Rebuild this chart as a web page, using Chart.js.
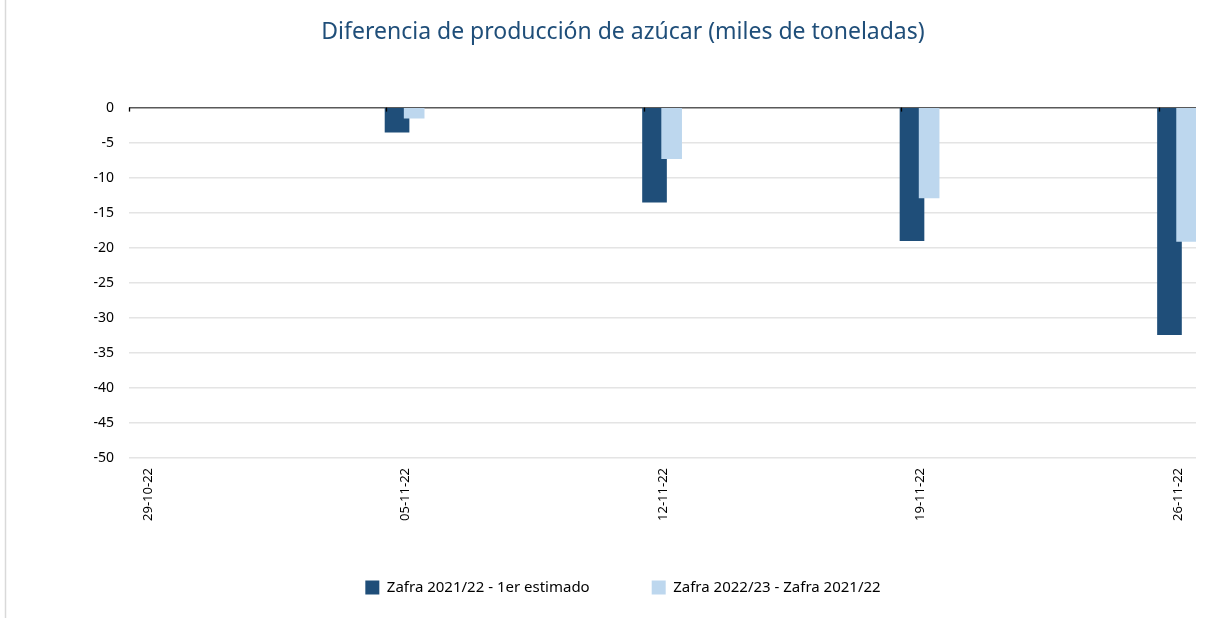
<!DOCTYPE html>
<html>
<head>
<meta charset="utf-8">
<script src="https://cdn.jsdelivr.net/npm/chart.js@4"></script>
<style>
  html, body { margin: 0; padding: 0; background: #fff; }
  #wrap { position: relative; width: 1227px; height: 618px; }
</style>
</head>
<body>
<div id="wrap"><canvas id="c" width="1227" height="618"></canvas></div>
<script>
const categories = ['29-10-22', '05-11-22', '12-11-22', '19-11-22', '26-11-22'];
const zafra2122Estimado = [null, -3.5, -13.5, -19.0, -32.4];
const zafra2223Menos2122 = [null, -1.5, -7.3, -12.9, -19.1];
const seriesNames = ['Zafra 2021/22 - 1er estimado', 'Zafra 2022/23 - Zafra 2021/22'];
const yMin = -50, yMax = 0, yStep = 5;
const titleText = 'Diferencia de producción de azúcar (miles de toneladas)';

const FONT = '"Noto Sans", "Open Sans", sans-serif';
const DARK = '#1F4E79';
const LIGHT = '#BDD7EE';

// x range in category-index units (last category sits short of the right edge)
const xMax = categories.length - 1 + 0.144;
const darkShift = 0.041;   // dark bar center slightly right of the category tick
const lightShift = 0.1075; // light bar center further right

const toPoints = arr => arr.map((v, i) => ({ x: i, y: v }));

const decor = {
  id: 'decor',
  beforeDraw(chart) {
    const ctx = chart.ctx;
    ctx.save();
    ctx.fillStyle = '#fff';
    ctx.fillRect(0, 0, chart.width, chart.height);
    ctx.strokeStyle = '#d9d9d9';
    ctx.lineWidth = 1.5;
    ctx.beginPath();
    ctx.moveTo(5.5, 0);
    ctx.lineTo(5.5, chart.height);
    ctx.stroke();
    ctx.restore();
  },
  afterDatasetsDraw(chart) {
    const ctx = chart.ctx;
    const xs = chart.scales.x, ys = chart.scales.y;
    const y0 = ys.getPixelForValue(0);
    ctx.save();
    ctx.strokeStyle = '#000';
    ctx.lineWidth = 1.3;
    categories.forEach((c, i) => {
      const px = Math.round(xs.getPixelForValue(i)) + 0.5;
      ctx.beginPath();
      ctx.moveTo(px, y0);
      ctx.lineTo(px, y0 + 4);
      ctx.stroke();
    });
    ctx.restore();
  }
};

new Chart(document.getElementById('c'), {
  type: 'bar',
  data: {
    datasets: [
      {
        label: seriesNames[0],
        data: toPoints(zafra2122Estimado),
        backgroundColor: DARK,
        borderWidth: 0,
        barThickness: 24,
        grouped: false,
        xAxisID: 'xd',
        order: 2
      },
      {
        label: seriesNames[1],
        data: toPoints(zafra2223Menos2122),
        backgroundColor: LIGHT,
        borderWidth: 0,
        barThickness: 20,
        grouped: false,
        xAxisID: 'xl',
        order: 1
      }
    ]
  },
  options: {
    responsive: false,
    animation: false,
    devicePixelRatio: 1,
    layout: { padding: { left: 50, right: 31, top: 0, bottom: 13 } },
    plugins: {
      title: {
        display: true,
        text: titleText,
        color: DARK,
        font: { family: FONT, size: 23, weight: 'normal' },
        padding: { top: 19, bottom: 61 }
      },
      legend: {
        position: 'bottom',
        labels: {
          boxWidth: 14,
          boxHeight: 14,
          padding: 62,
          color: '#000',
          font: { family: FONT, size: 15 },
          sort: (a, b) => a.datasetIndex - b.datasetIndex
        }
      },
      tooltip: { enabled: false }
    },
    scales: {
      x: {
        type: 'linear',
        position: 'bottom',
        offset: false,
        min: 0,
        max: xMax,
        afterFit(scale) {
          scale.height = 60;
          scale._computeLabelArea = () => undefined;
        },
        afterBuildTicks(scale) {
          scale.ticks = categories.map((c, i) => ({ value: i }));
        },
        ticks: {
          callback: v => categories[v] ?? '',
          minRotation: 90,
          maxRotation: 90,
          labelOffset: 19,
          padding: 10,
          color: '#000',
          font: { family: FONT, size: 13 },
          autoSkip: false
        },
        grid: { display: false, drawTicks: false, offset: false },
        border: { display: false }
      },
      xd: {
        type: 'linear', display: false, offset: false,
        min: -darkShift, max: xMax - darkShift
      },
      xl: {
        type: 'linear', display: false, offset: false,
        min: -lightShift, max: xMax - lightShift
      },
      y: {
        min: yMin,
        max: yMax,
        afterFit(scale) { scale.width = 129 - 50; },
        ticks: {
          stepSize: yStep,
          padding: 15,
          color: '#000',
          font: { family: FONT, size: 14 }
        },
        grid: {
          drawTicks: false,
          color: ctx => ctx.tick && ctx.tick.value === 0 ? '#595959' : '#e4e4e4',
          lineWidth: 1.5
        },
        border: { display: false }
      }
    }
  },
  plugins: [decor]
});
</script>
</body>
</html>
